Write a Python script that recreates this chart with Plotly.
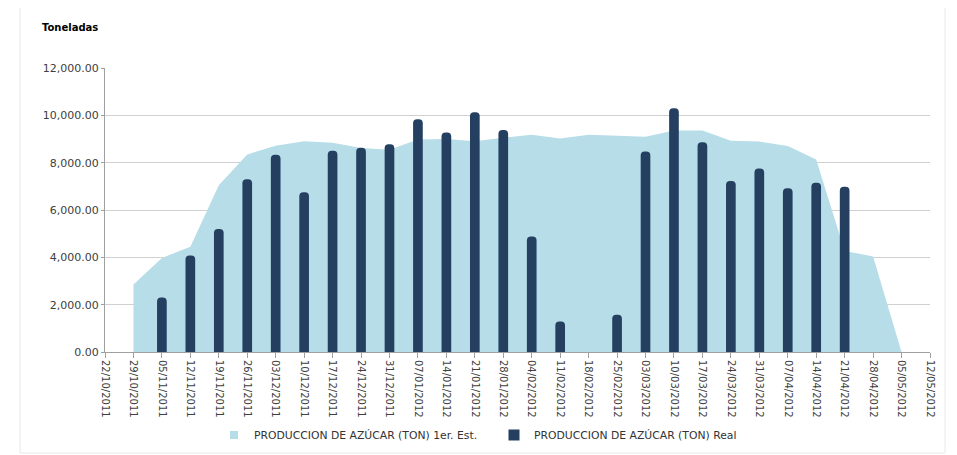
import plotly.graph_objects as go

# Estimated production (area), weekly dates
est_dates = ["2011-10-29", "2011-11-05", "2011-11-12", "2011-11-19", "2011-11-26",
             "2011-12-03", "2011-12-10", "2011-12-17", "2011-12-24", "2011-12-31",
             "2012-01-07", "2012-01-14", "2012-01-21", "2012-01-28", "2012-02-04",
             "2012-02-11", "2012-02-18", "2012-02-25", "2012-03-03", "2012-03-10",
             "2012-03-17", "2012-03-24", "2012-03-31", "2012-04-07", "2012-04-14",
             "2012-04-21", "2012-04-28", "2012-05-05"]
est_values = [2850, 3975, 4450, 7050, 8350, 8720, 8900, 8840, 8620, 8550,
              8980, 9000, 8900, 9050, 9180, 9020, 9180, 9140, 9100, 9360,
              9360, 8930, 8890, 8700, 8130, 4270, 4040, 0]

# Real production (bars)
real_dates = ["2011-11-05", "2011-11-12", "2011-11-19", "2011-11-26", "2011-12-03",
              "2011-12-10", "2011-12-17", "2011-12-24", "2011-12-31", "2012-01-07",
              "2012-01-14", "2012-01-21", "2012-01-28", "2012-02-04", "2012-02-11",
              "2012-02-18", "2012-02-25", "2012-03-03", "2012-03-10", "2012-03-17",
              "2012-03-24", "2012-03-31", "2012-04-07", "2012-04-14", "2012-04-21"]
real_values = [2300, 4080, 5200, 7300, 8330, 6750, 8500, 8630, 8780, 9830,
               9270, 10130, 9380, 4880, 1290, None, 1570, 8470, 10300, 8860,
               7230, 7750, 6920, 7150, 6980]

name_est = "PRODUCCION DE AZÚCAR (TON) 1er. Est."
name_real = "PRODUCCION DE AZÚCAR (TON) Real"

AREA_COLOR = "#b7dde8"
BAR_COLOR = "#243f60"
FONT = "DejaVu Sans"
WEEK_MS = 7 * 24 * 3600 * 1000
X_RANGE = ["2011-10-22", "2012-05-12"]
Y_RANGE = [0, 12000]

# page body adds 8px offset
OFF = 8
PL, PR, PT, PB = 105 - OFF, 930 - OFF, 68 - OFF, 352 - OFF
PW, PH = PR - PL, PB - PT

fig = go.Figure()
fig.add_trace(go.Scatter(x=est_dates, y=est_values, mode="none", fill="tozeroy",
                         fillcolor=AREA_COLOR, name=name_est, showlegend=False,
                         xaxis="x", yaxis="y"))
fig.add_trace(go.Bar(x=real_dates, y=real_values, width=WEEK_MS * 0.34,
                     marker=dict(color=BAR_COLOR, line=dict(width=0)),
                     name=name_real, showlegend=False, xaxis="x", yaxis="y2"))
# legend entries
fig.add_trace(go.Scatter(x=[None], y=[None], mode="markers", name=name_est,
                         marker=dict(symbol="square", size=8, color=AREA_COLOR)))
fig.add_trace(go.Scatter(x=[None], y=[None], mode="markers", name=name_real,
                         marker=dict(symbol="square", size=11, color=BAR_COLOR)))

fig.update_layout(
    width=957, height=455,
    margin=dict(l=PL, r=957 - PR, t=PT, b=455 - PB),
    paper_bgcolor="white", plot_bgcolor="white",
    font=dict(family=FONT, size=11, color="#404040"),
    barcornerradius=5,
    title=dict(text="<b>Toneladas</b>", x=(42 - OFF) / 957, xanchor="left", xref="container",
               y=1 - (27 - OFF) / 455, yanchor="middle", yref="container",
               font=dict(family=FONT, size=10, color="#000000")),
    legend=dict(orientation="h", x=(214 - 105) / PW, xanchor="left",
                y=(352 - 435) / PH, yanchor="middle",
                font=dict(family=FONT, size=10.8, color="#333333"),
                entrywidth=235, entrywidthmode="pixels"),
    xaxis=dict(type="date", range=X_RANGE,
               tick0="2011-10-22", dtick=WEEK_MS, tickformat="%d/%m/%Y",
               tickangle=90, ticks="outside", ticklen=5, tickcolor="#a0a0a0",
               showline=True, linecolor="#a0a0a0", linewidth=1, showgrid=False,
               tickfont=dict(family=FONT, size=10, color="#404040")),
    yaxis=dict(range=Y_RANGE, dtick=2000, tickformat=",.2f",
               ticks="outside", ticklen=3, tickcolor="#a0a0a0",
               showline=True, linecolor="#a0a0a0", linewidth=1,
               gridcolor="#d0d0d0", gridwidth=1, zeroline=False,
               tickfont=dict(family=FONT, size=11, color="#404040")),
    yaxis2=dict(range=Y_RANGE, overlaying="y", visible=False, showgrid=False),
    shapes=[dict(type="rect", xref="paper", yref="paper",
                 x0=(20 - 105) / PW, x1=(945 - 105) / PW,
                 y0=(352 - 453) / PH, y1=(352 - 6) / PH,
                 line=dict(color="#e8e8e8", width=1), fillcolor="rgba(0,0,0,0)",
                 layer="below")],
)

fig.write_html("out.html")
